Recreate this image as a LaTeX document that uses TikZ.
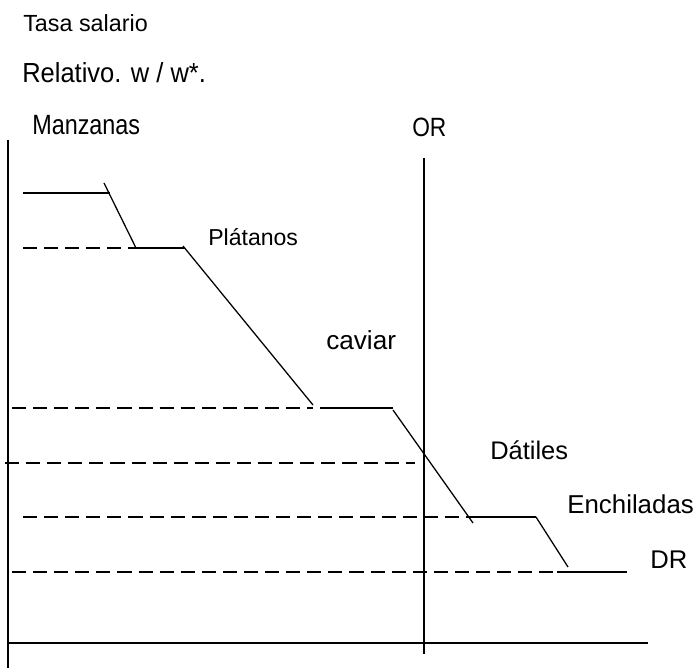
\documentclass[tikz,border=0pt]{standalone}
\usepackage{fontspec}
\setmainfont{Liberation Sans}
\usepackage{graphicx}
\begin{document}
\begin{tikzpicture}[
    x=0.025cm, y=-0.025cm,
    axis/.style={line width=0.9pt},
    supply/.style={line width=0.9pt},
    guide/.style={line width=0.9pt, dash pattern=on 10pt off 5pt},
    label/.style={anchor=base west, inner sep=0pt, font=\fontsize{#1}{#1}\selectfont},
]
\useasboundingbox (0,0) rectangle (696,669);

% Titles of the vertical axis
\node[label=16.6] (tasa) at (23,32) {Tasa salario};
\node[label=19.6] (relativo) at (22,83) {\scalebox{0.925}[1]{Relativo. w / w*.}};
\node[label=19.8] (manzanas) at (32,135) {\scalebox{0.84}[1]{Manzanas}};
\node[label=18.8] (orlabel) at (412,137) {\scalebox{0.86}[1]{OR}};

% Axes and the relative supply line
\draw[axis] (8,140) -- (8,668);
\draw[axis] (8,643) -- (648,643);
\draw[axis] (424,158) -- (424,654);

% Relative demand, step by step
\draw[supply] (23,193) -- (110,193);
\draw[supply] (104,183) -- (136,248);
\draw[guide] (23,248) -- (136,248);
\draw[supply] (136,248) -- (185,248);
\draw[supply] (183,246) -- (313,405);
\draw[guide] (12,408) -- (313,408);
\draw[supply] (320,408) -- (393,408);
\draw[supply] (393,410) -- (473,523);
\draw[guide] (5,463) -- (415,463);
\draw[guide] (23,517) -- (467,517);
\draw[supply] (467,517) -- (536,517);
\draw[supply] (536,517) -- (568,567);
\draw[guide] (12,572) -- (557,572);
\draw[supply] (557,572) -- (627,572);

% Goods
\node[label=16.4] (platanos) at (208,245) {Plátanos};
\node[label=18.6] (caviar) at (326,349) {caviar};
\node[label=18.1] (datiles) at (490,459) {Dátiles};
\node[label=18.4] (enchiladas) at (567,513) {Enchiladas};
\node[label=18.2] (drlabel) at (650,568) {DR};
\end{tikzpicture}
\end{document}
